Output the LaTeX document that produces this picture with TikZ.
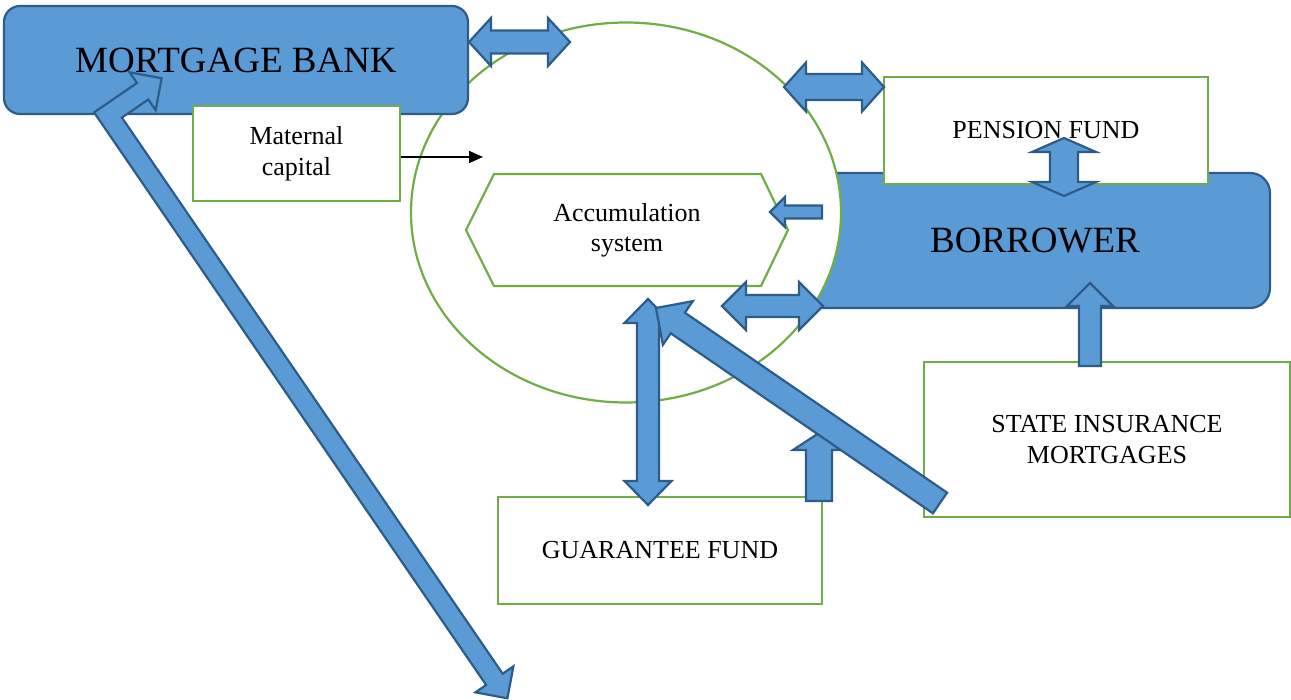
\documentclass[tikz,border=0pt]{standalone}
\usepackage{fontspec}
\setmainfont{Liberation Serif}
\usetikzlibrary{calc,arrows.meta,shapes.geometric}

\definecolor{bankblue}{HTML}{5B9BD5}
\definecolor{arrowline}{HTML}{2E5C8A}
\definecolor{boxgreen}{HTML}{70AD47}

\tikzset{
	greenbox/.style={draw=boxgreen, line width=1.1pt, fill=white, align=center, inner sep=0pt, font=\fontsize{13}{15.5}\selectfont},
	bluebox/.style={draw=arrowline, line width=1.1pt, fill=bankblue, inner sep=0pt, font=\fontsize{18.5}{22}\selectfont},
	blockarrow/.style={fill=bankblue, draw=arrowline, line width=1.1pt, line join=miter}
}

% #1 from, #2 to, #3 shaft half width, #4 head half width, #5 head length
\newcommand{\twoheadblock}[5]{
	\coordinate (ba1) at ($(#1)!#5!(#2)$);
	\coordinate (ba2) at ($(#2)!#5!(#1)$);
	\filldraw[blockarrow] (#1) -- ($(ba1)!#4!90:(#2)$) -- ($(ba1)!#3!90:(#2)$) -- ($(ba2)!#3!-90:(#1)$) -- ($(ba2)!#4!-90:(#1)$) -- (#2)
		-- ($(ba2)!#4!90:(#1)$) -- ($(ba2)!#3!90:(#1)$) -- ($(ba1)!#3!-90:(#2)$) -- ($(ba1)!#4!-90:(#2)$) -- cycle;
}
\newcommand{\oneheadblock}[5]{
	\coordinate (ba) at ($(#2)!#5!(#1)$);
	\filldraw[blockarrow] ($(#1)!#3!90:(#2)$) -- ($(ba)!#3!-90:(#1)$) -- ($(ba)!#4!-90:(#1)$) -- (#2)
		-- ($(ba)!#4!90:(#1)$) -- ($(ba)!#3!90:(#1)$) -- ($(#1)!#3!-90:(#2)$) -- cycle;
}

\begin{document}
\begin{tikzpicture}[x=0.5pt,y=-0.5pt]
	\useasboundingbox (0,0) rectangle (1291,700);
	
	\node[bluebox, rounded corners=10pt, minimum width=235pt, minimum height=67.5pt] (borrower) at (1035,240.5) {BORROWER};
	\node[draw=boxgreen, line width=1.1pt, fill=white, ellipse, inner sep=0pt, minimum width=215pt, minimum height=190pt] (circ) at (626,212.5) {};
	\node[bluebox, rounded corners=8pt, minimum width=232pt, minimum height=54pt] (bank) at (236,60) {MORTGAGE BANK};
	\node[greenbox, minimum width=103.5pt, minimum height=47.5pt] (maternal) at (296.5,153.5) {Maternal\\capital};
	\node[greenbox, minimum width=162pt, minimum height=53.5pt] (pension) at (1046,130.5) {PENSION FUND};
	\node[greenbox, minimum width=183pt, minimum height=77.5pt] (state) at (1107,439.5) {STATE INSURANCE\\MORTGAGES};
	\node[greenbox, minimum width=162pt, minimum height=53.5pt] (guarantee) at (660,550.5) {GUARANTEE FUND};
	
	\draw[boxgreen, line width=1.1pt, fill=white] (466,230) -- (494,174) -- (761,174) -- (788,230) -- (761,286) -- (494,286) -- cycle;
	\node[align=center, inner sep=0pt, font=\fontsize{13}{15}\selectfont] (acc) at (627,230) {Accumulation\\system};
	
	\coordinate (mat-tip) at (483,157);
	\draw[line width=0.75pt, -{Triangle[length=7pt,width=6pt]}] (maternal.east |- mat-tip) -- (mat-tip);
	
	\coordinate (bank-r) at (469,42);
	\coordinate (circ-l) at (570,42);
	\twoheadblock{bank-r}{circ-l}{5.75pt}{12pt}{11pt}
	
	\coordinate (circ-r) at (784,87);
	\coordinate (pens-l) at (884,87);
	\twoheadblock{circ-r}{pens-l}{6.5pt}{12.25pt}{11pt}
	
	\coordinate (pens-b) at (1064,138);
	\coordinate (borr-t) at (1064,196);
	\twoheadblock{pens-b}{borr-t}{7pt}{16pt}{7pt}
	
	\coordinate (borr-l) at (822,212);
	\coordinate (acc-r) at (770,212);
	\oneheadblock{borr-l}{acc-r}{3.25pt}{7.5pt}{7.5pt}
	
	\coordinate (circ-b) at (722,306);
	\coordinate (borr-bl) at (823,306);
	\twoheadblock{circ-b}{borr-bl}{5.5pt}{12pt}{12pt}
	
	\coordinate (state-t) at (1090,366);
	\coordinate (borr-b) at (1090,283);
	\oneheadblock{state-t}{borr-b}{5.5pt}{11.5pt}{11.5pt}
	
	\coordinate (acc-b) at (648,299);
	\coordinate (guar-t) at (648,505);
	\twoheadblock{acc-b}{guar-t}{5.5pt}{11.75pt}{12pt}
	
	\coordinate (guar-up) at (819,501);
	\coordinate (guar-tip) at (819,433);
	\oneheadblock{guar-up}{guar-tip}{6.5pt}{13pt}{8.5pt}
	
	\coordinate (state-l) at (940,503);
	\coordinate (acc-bt) at (656,308);
	\oneheadblock{state-l}{acc-bt}{6.25pt}{13.25pt}{13.25pt}
	
	\begin{scope}[shift={(108,115)}, rotate=34.4]
		\filldraw[blockarrow] (-10,-10) -- (42,-10) -- (42,-23) -- (65,0) -- (42,23) -- (42,10) -- (10,10) -- (10,684)
			-- (23,684) -- (0,707) -- (-23,684) -- (-10,684) -- cycle;
	\end{scope}
\end{tikzpicture}
\end{document}
